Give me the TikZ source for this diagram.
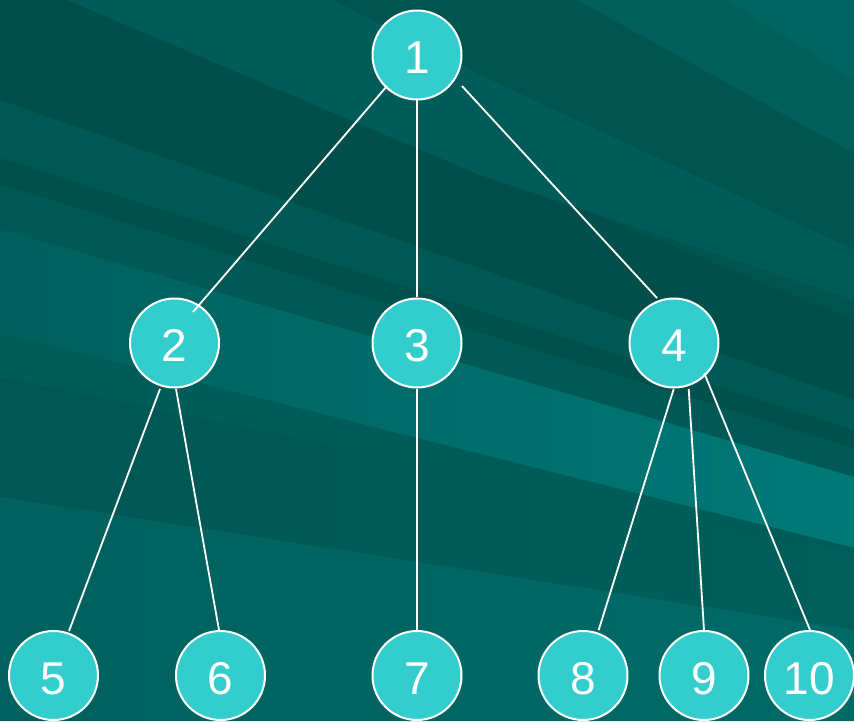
\documentclass[tikz,border=0pt]{standalone}
\usepackage{fontspec}
\setmainfont{Liberation Sans}
\usetikzlibrary{calc}
\definecolor{nodecyan}{HTML}{34CDCD}
\definecolor{bgbase}{HTML}{00625F}
\definecolor{bgdark}{HTML}{004F4B}
\definecolor{bgdarkb}{HTML}{00544F}
\definecolor{bgmid}{HTML}{005C58}
\definecolor{bgmidb}{HTML}{005955}
\definecolor{bgtr}{HTML}{005E5B}
\definecolor{bgtrb}{HTML}{006461}
\definecolor{bgstreak}{HTML}{00514D}
\definecolor{bglightL}{HTML}{005F5C}
\definecolor{bglightR}{HTML}{007A78}
\definecolor{bgdk2L}{HTML}{005652}
\definecolor{bgdk2R}{HTML}{005F5B}
\definecolor{bgbotL}{HTML}{00615E}
\definecolor{bgbotR}{HTML}{006A67}
\tikzset{
  nd/.style={circle, fill=nodecyan, draw=white, line width=2pt,
    minimum size=89pt, inner sep=0pt, text=white,
    text height=37pt, text depth=0pt,
    font=\fontsize{46}{46}\selectfont},
  edge/.style={draw=white, line width=1.8pt}
}
\begin{document}
\begin{tikzpicture}[x=1pt,y=-1pt]
\useasboundingbox (0,0) rectangle (854,721);
\begin{scope}
\clip (0,0) rectangle (854,721);
% base
\fill[bgbase] (0,0) rectangle (854,721);
% upper dark area
\fill[bgdarkb] (0,0) -- (854,0) -- (854,400) -- (0,100) -- cycle;
\fill[bgdark] (0,0) -- (67,0) -- (854,320) -- (854,400) -- (0,100) -- cycle;
\fill[bgmid] (333,0) -- (480,75) -- (854,250) -- (854,300) -- (480,175) -- (67,0) -- cycle;
\fill[bgtr] (577,0) -- (854,0) -- (854,153) -- cycle;
\fill[bgtrb] (727,0) -- (854,0) -- (854,80) -- cycle;
% middle bands
\fill[bgmidb] (0,100) -- (854,400) -- (854,477) -- (0,229) -- cycle;
\fill[bgstreak] (0,158) -- (854,430) -- (854,448) -- (0,184) -- cycle;
\shade[left color=bglightL, right color=bglightR]
  (0,229) -- (854,477) -- (854,548) -- (0,333) -- cycle;
\fill[bgmid] (0,333) -- (854,548) -- (854,553) -- (0,377) -- cycle;
\shade[left color=bgdk2L, right color=bgdk2R]
  (0,377) -- (854,553) -- (854,630) -- (0,497) -- cycle;
\shade[left color=bgbotL, right color=bgbotR]
  (0,497) -- (854,630) -- (854,721) -- (0,721) -- cycle;
\end{scope}

% nodes
\node[nd] (n1) at (417,55) {1};
\node[nd] (n2) at (174.5,343) {2};
\node[nd] (n3) at (417,343) {3};
\node[nd] (n4) at (674,343) {4};
\node[nd] (n5) at (53.5,675.5) {5};
\node[nd] (n6) at (220.5,675.5) {6};
\node[nd] (n7) at (417,675.5) {7};
\node[nd] (n8) at (583,675.5) {8};
\node[nd] (n9) at (704,675.5) {9};
\node[nd] (n10) at (809.5,675.5) {10};

% edges
\draw[edge] ($(n1)+(-30,31)$) -- ($(n2)+(18.5,-31)$);
\draw[edge] ($(n1)+(0,45)$) -- ($(n3)+(0,-46)$);
\draw[edge] ($(n1)+(45,31)$) -- ($(n4)+(-17,-45)$);
\draw[edge] ($(n2)+(-14.5,46)$) -- ($(n5)+(15.5,-44.5)$);
\draw[edge] ($(n2)+(1.5,46)$) -- ($(n6)+(-1.5,-45.5)$);
\draw[edge] ($(n3)+(0,46)$) -- ($(n7)+(0,-45.5)$);
\draw[edge] ($(n4)+(-0.3,46)$) -- ($(n8)+(15.7,-45.5)$);
\draw[edge] ($(n4)+(14.7,46)$) -- ($(n9)+(0,-45.5)$);
\draw[edge] ($(n4)+(30.3,30.3)$) -- ($(n10)+(0.5,-45.5)$);
\end{tikzpicture}
\end{document}
